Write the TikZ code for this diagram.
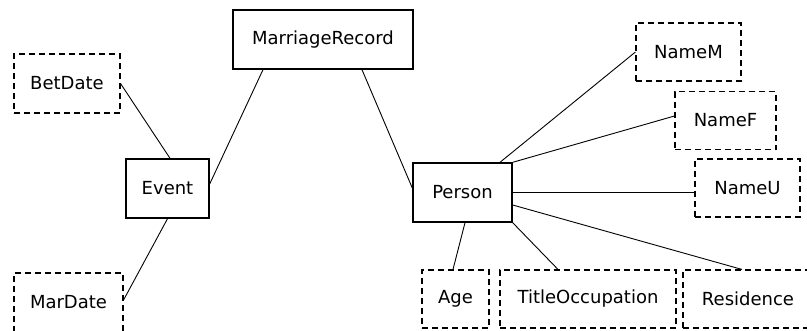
\documentclass[tikz,border=0pt]{standalone}
\usepackage{fontspec}
\setmainfont{DejaVu Sans}
\begin{document}
\begin{tikzpicture}[x=1pt,y=-1pt,
  ent/.style={draw=black, line width=1.4pt, rectangle, inner sep=0pt, minimum height=59pt, font=\fontsize{18}{20}\selectfont},
  attr/.style={draw=black, line width=1.1pt, dash pattern=on 6pt off 4pt, rectangle, inner sep=0pt, minimum height=58pt, font=\fontsize{18}{20}\selectfont},
  conn/.style={draw=black, line width=0.9pt}]
\clip (0,0) rectangle (807,330);
\fill[white] (0,0) rectangle (807,330);
\node[ent, minimum width=180pt] (mr) at (323,39.5) {MarriageRecord};
\node[attr, minimum width=106pt, minimum height=59pt] (bet) at (67,83.5) {BetDate};
\node[ent, minimum width=83pt] (event) at (167.5,188.5) {Event};
\node[attr, minimum width=109pt, minimum height=59pt] (mar) at (68.5,302.5) {MarDate};
\node[ent, minimum width=99pt] (person) at (462.5,192.5) {Person};
\node[attr, minimum width=105pt] (nm) at (688.5,52) {NameM};
\node[attr, minimum width=101pt] (nf) at (725.5,120.5) {NameF};
\node[attr, minimum width=105pt] (nu) at (747.5,188) {NameU};
\node[attr, minimum width=67pt] (age) at (455.5,299) {Age};
\node[attr, minimum width=176pt] (title) at (588,299) {TitleOccupation};
\node[attr, minimum width=130pt] (res) at (748,299) {Residence};
\draw[conn] (bet.east) -- ([xshift=2.5pt]event.north);
\draw[conn] ([yshift=4.5pt]event.east) -- ([xshift=-60pt]mr.south);
\draw[conn] (event.south) -- ([yshift=2.5pt]mar.east);
\draw[conn] ([xshift=39pt]mr.south) -- ([yshift=4.5pt]person.west);
\draw[conn] ([xshift=37.5pt]person.north) -- (nm.west);
\draw[conn] (person.north east) -- ([yshift=4.5pt]nf.west);
\draw[conn] (person.east) -- (nu.west |- person.east);
\draw[conn] ([yshift=-12.5pt]person.east) -- ([xshift=-6pt]res.north);
\draw[conn] (person.south east) -- ([xshift=-30pt]title.north);
\draw[conn] ([xshift=2.5pt]person.south) -- ([xshift=-2.5pt]age.north);
\end{tikzpicture}
\end{document}
